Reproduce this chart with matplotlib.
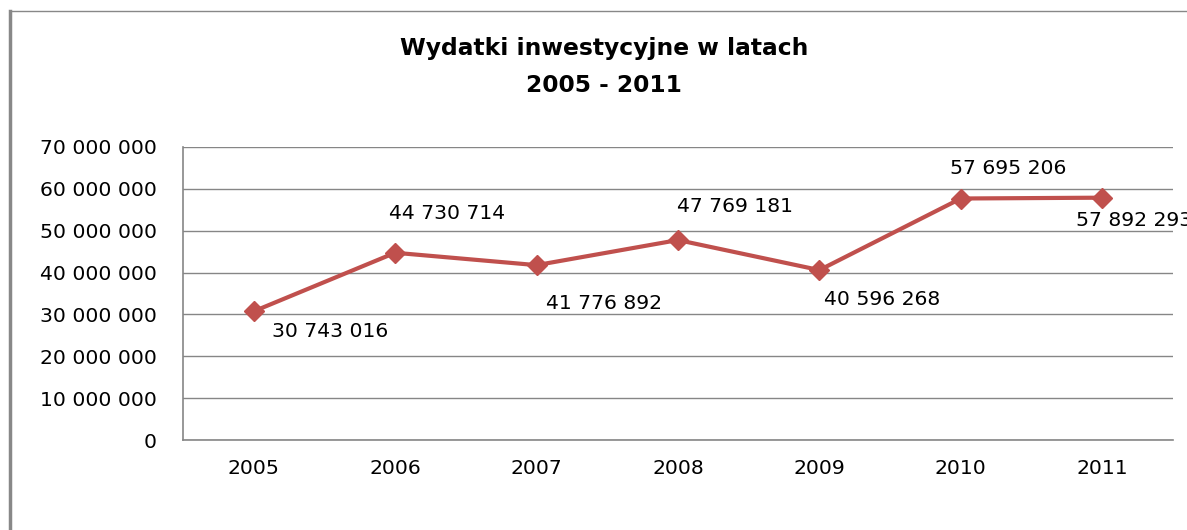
import matplotlib
matplotlib.use("Agg")
import matplotlib.pyplot as plt
from matplotlib.lines import Line2D

years = ["2005", "2006", "2007", "2008", "2009", "2010", "2011"]
wydatki = [30743016, 44730714, 41776892, 47769181, 40596268, 57695206, 57892293]
y_ticks = [0, 10000000, 20000000, 30000000, 40000000, 50000000, 60000000, 70000000]
# label offsets in pixels (dx, dy) relative to the marker
label_offsets = [(76, -20), (52, 39), (67, -38), (57, 34), (63, -29), (47, 30), (32, -23)]


def fmt(v):
    return f"{v:,}".replace(",", " ")


plt.rcParams['font.family'] = ['DejaVu Sans']
fig = plt.figure(figsize=(11.87, 5.30), dpi=100)
ax = fig.add_axes([183 / 1187, 90 / 530, 990 / 1187, 293 / 530])

x = list(range(len(years)))
ax.plot(x, wydatki, color="#C0504D", lw=3, marker="D", ms=10,
        markeredgecolor="#C0504D", zorder=3)

for xi, v, (dx, dy) in zip(x, wydatki, label_offsets):
    ax.annotate(fmt(v), (xi, v), xytext=(dx * 0.72, dy * 0.72),
                textcoords="offset points", ha="center", va="center",
                fontsize=14.7, color="#000000", annotation_clip=False)

ax.set_xlim(-0.5, 6.5)
ax.set_ylim(0, 70000000)
ax.set_xticks(x)
ax.set_xticklabels(years, fontsize=14.7)
ax.set_yticks(y_ticks)
ax.set_yticklabels([fmt(t) for t in y_ticks], fontsize=14.7)
ax.tick_params(length=0)
ax.tick_params(axis="x", pad=14)
ax.tick_params(axis="y", pad=19)
ax.grid(axis="y", color="#868686", lw=1)
ax.set_axisbelow(True)
for s in ["top", "right"]:
    ax.spines[s].set_visible(False)
for s in ["left", "bottom"]:
    ax.spines[s].set_color("#868686")
    ax.spines[s].set_linewidth(1.2)

fig.text(604 / 1187, 1 - 67 / 530, "Wydatki inwestycyjne w latach\n2005 - 2011",
         ha="center", va="center", fontsize=16.8, fontweight="bold", linespacing=1.75)

# outer chart frame (left and top edges)
fig.add_artist(Line2D([10 / 1187, 10 / 1187], [0, 1 - 11 / 530], color="#888888", lw=2.5))
fig.add_artist(Line2D([10 / 1187, 1], [1 - 11 / 530, 1 - 11 / 530], color="#888888", lw=1))

fig.savefig("out.png", dpi=100)
